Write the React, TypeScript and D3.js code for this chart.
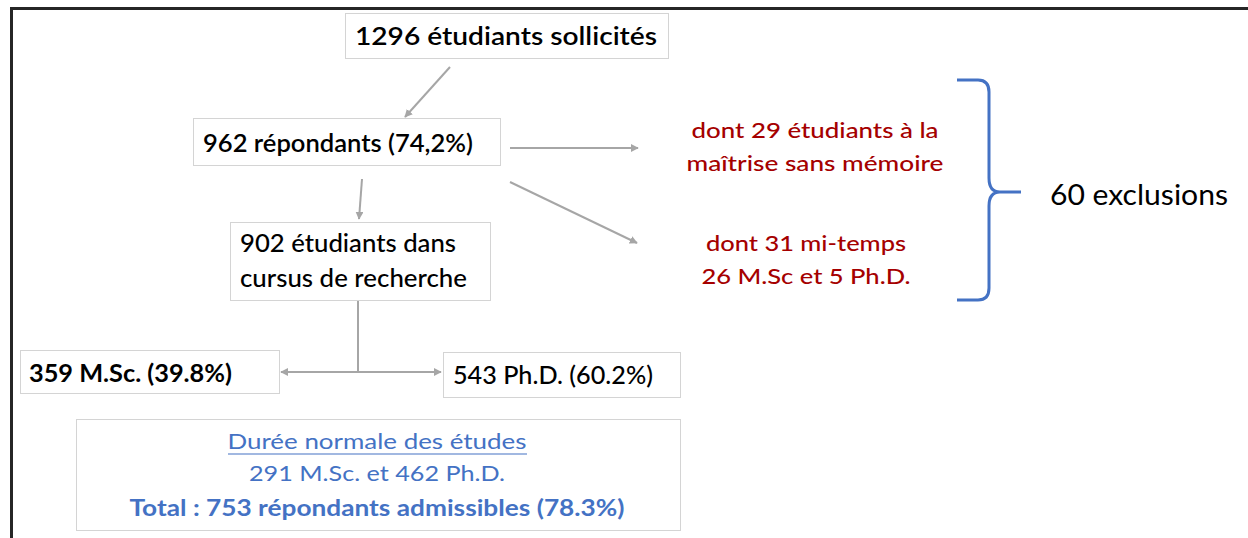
import React from 'react';
import { line, path as d3path } from 'd3';

// flowchart content
const sourceLabel = ['1296 étudiants sollicités'];
const respondentLabel = ['962 répondants (74,2%)'];
const researchLabel = ['902 étudiants dans', 'cursus de recherche'];
const mscLabel = ['359 M.Sc. (39.8%)'];
const phdLabel = ['543 Ph.D. (60.2%)'];
const exclusionA = ['dont 29 étudiants à la', 'maîtrise sans mémoire'];
const exclusionB = ['dont 31 mi-temps', '26 M.Sc et 5 Ph.D.'];
const exclusionTotal = '60 exclusions';
const summaryLines = [
  'Durée normale des études',
  '291 M.Sc. et 462 Ph.D.',
  'Total : 753 répondants admissibles (78.3%)',
];

const W = 1248;
const H = 538;
const FONT = 'Lato, "Open Sans", sans-serif';
const GREY = '#a6a6a6';
const RED = '#a50000';
const BLUE = '#4472c4';

type Box = {
  lines: string[];
  x: number; y: number; w: number; h: number;
  tx: number; ty: number[]; tw: number[];
  weight: number;
};

const boxes: Box[] = [
  { lines: sourceLabel, x: 345, y: 13, w: 323, h: 45, tx: 355, ty: [45], tw: [302], weight: 600 },
  { lines: respondentLabel, x: 193, y: 118, w: 307, h: 47, tx: 203, ty: [152], tw: [270], weight: 600 },
  { lines: researchLabel, x: 230, y: 222, w: 260, h: 78, tx: 240, ty: [252, 287], tw: [216, 227], weight: 500 },
  { lines: mscLabel, x: 20, y: 350, w: 259, h: 43, tx: 29, ty: [382], tw: [203], weight: 700 },
  { lines: phdLabel, x: 443, y: 352, w: 237, h: 45, tx: 453, ty: [384], tw: [200], weight: 500 },
];

const arrows: [number, number][][] = [
  [[450, 67], [405, 117]],
  [[362, 179], [359, 219]],
  [[510, 148], [638, 148]],
  [[510, 182], [637, 243]],
  [[358, 372], [281, 372]],
  [[358, 372], [441, 372]],
];

const arrowLine = line<[number, number]>();

function bracePath() {
  const p = d3path();
  p.moveTo(957, 80);
  p.lineTo(978, 80);
  p.quadraticCurveTo(989, 80, 989, 92);
  p.lineTo(989, 178);
  p.quadraticCurveTo(989, 192, 1000, 192);
  p.lineTo(1021, 192);
  p.moveTo(1000, 192);
  p.quadraticCurveTo(989, 192, 989, 206);
  p.lineTo(989, 288);
  p.quadraticCurveTo(989, 300, 978, 300);
  p.lineTo(957, 300);
  return p.toString();
}

export default function App() {
  return (
    <svg
      width={W}
      height={H}
      style={{ position: 'absolute', left: 0, top: 0, background: '#fff' }}
      fontFamily={FONT}
    >
      <defs>
        <marker id="ah" viewBox="0 0 10 10" refX="9" refY="5" markerWidth="4" markerHeight="4" orient="auto">
          <path d="M0,0 L10,5 L0,10 z" fill={GREY} />
        </marker>
      </defs>

      {/* frame */}
      <path d={`M11.5,${H} V8.5 H${W}`} fill="none" stroke="#262626" strokeWidth={3} />

      {/* connectors */}
      <path d="M358,300 V372" stroke={GREY} strokeWidth={2} fill="none" />
      {arrows.map((a, i) => (
        <path key={i} d={arrowLine(a) ?? ''} stroke={GREY} strokeWidth={2} fill="none" markerEnd="url(#ah)" />
      ))}

      {/* boxes */}
      {boxes.map((b, i) => (
        <g key={i}>
          <rect x={b.x + 0.5} y={b.y + 0.5} width={b.w} height={b.h} fill="#fff" stroke="#d4d4d4" />
          {b.lines.map((t, j) => (
            <text
              key={j}
              x={b.tx}
              y={b.ty[j]}
              fontSize={24}
              fontWeight={b.weight}
              fill="#000"
              textLength={b.tw[j]}
              lengthAdjust="spacingAndGlyphs"
            >
              {t}
            </text>
          ))}
        </g>
      ))}

      {/* exclusions */}
      {[exclusionA, exclusionB].map((ls, i) =>
        ls.map((t, j) => (
          <text
            key={`${i}-${j}`}
            x={i === 0 ? 815 : 806}
            y={(i === 0 ? 138 : 251) + j * 33}
            textAnchor="middle"
            fontSize={22}
            fontWeight={500}
            fill={RED}
            textLength={[[247, 257], [200, 209]][i][j]}
            lengthAdjust="spacingAndGlyphs"
          >
            {t}
          </text>
        ))
      )}

      <path d={bracePath()} fill="none" stroke={BLUE} strokeWidth={3} />
      <text x={1050} y={205} fontSize={28} fill="#000" textLength={178} lengthAdjust="spacingAndGlyphs">
        {exclusionTotal}
      </text>

      {/* summary */}
      <rect x={76.5} y={419.5} width={604} height={111} fill="#fff" stroke="#d4d4d4" />
      {summaryLines.map((t, j) => (
        <text
          key={j}
          x={377}
          y={[449, 481, 516][j]}
          textAnchor="middle"
          fontSize={22}
          fontWeight={j === 2 ? 700 : 400}
          fill={BLUE}
          textLength={[299, 256, 495][j]}
          lengthAdjust="spacingAndGlyphs"
        >
          {t}
        </text>
      ))}
      <line x1={228} x2={527} y1={454} y2={454} stroke={BLUE} strokeWidth={1.2} />
    </svg>
  );
}
